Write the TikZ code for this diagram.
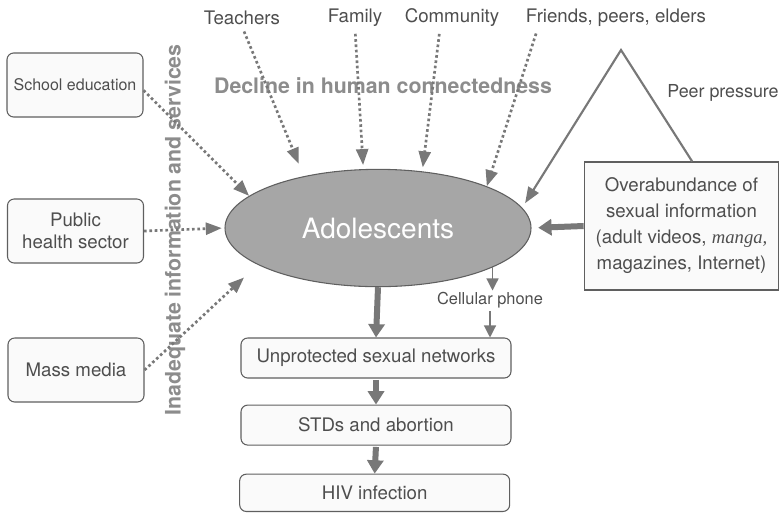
\documentclass[tikz,border=0pt]{standalone}
\usepackage{fontspec}
\setmainfont{TeX Gyre Heros}
\newfontfamily\mangafont{Liberation Serif}
\usepackage{tikz}
\usetikzlibrary{arrows.meta, positioning, shapes.geometric}
\usepackage{xcolor}
\definecolor{cText}{RGB}{78,78,78}
\definecolor{cLine}{RGB}{95,95,95}
\definecolor{cArrow}{RGB}{120,120,120}
\definecolor{cFill}{RGB}{166,166,166}
\definecolor{cHead}{RGB}{140,140,140}
\definecolor{cPaper}{RGB}{250,250,250}
\tikzset{
  basebox/.style={rectangle, rounded corners=5pt, draw=cLine, line width=0.8pt,
                  fill=cPaper, align=center, text=cText, inner sep=2pt,
                  font=\fontsize{14}{16.5}\selectfont},
  sidebox/.style={basebox, minimum width=102pt, minimum height=48pt},
  chainbox/.style={basebox, minimum width=202.5pt, minimum height=30pt},
  labelnode/.style={text=cText, inner sep=1pt, font=\fontsize{14}{16}\selectfont},
  headline/.style={text=cHead, inner sep=1pt, font=\bfseries\fontsize{16}{18}\selectfont},
  dotarrow/.style={-{Triangle[length=12pt,width=9pt]}, line width=2pt,
                   dash pattern=on 2pt off 2pt, color=cArrow},
  thickarrow/.style={-{Triangle[length=10pt,width=12pt]}, line width=4.5pt, color=cArrow},
  peerarrow/.style={-{Triangle[length=12pt,width=9pt]}, line width=1.6pt, color=cArrow},
  thinarrow/.style={-{Triangle[length=9pt,width=9pt]}, line width=0.9pt, color=cArrow}
}

\begin{document}
\begin{tikzpicture}[x=0.75pt, y=-0.75pt, node distance=19.5pt]

  \useasboundingbox (0,0) rectangle (781,512);

  % ── Centre ──
  \node[ellipse, draw=cLine, line width=0.8pt, fill=cFill, minimum width=229.5pt,
        minimum height=88pt, inner sep=0pt, text=white,
        font=\fontsize{21}{24}\selectfont] (adol) at (378,228) {Adolescents};

  % ── Left: services ──
  \node[sidebox, font=\fontsize{12}{14}\selectfont] (school) at (75,85) {School education};
  \node[sidebox] (health) at (75.5,231) {Public\\health sector};
  \node[sidebox] (media) at (76,370) {Mass media};
  \node[headline, rotate=90] (inadeq) at (175,230) {Inadequate information and services};

  % ── Top: connectedness ──
  \node[labelnode] (teach) at (242,18) {Teachers};
  \node[labelnode] (family) at (355,18) {Family};
  \node[labelnode] (comm) at (452,18) {Community};
  \node[labelnode] (friends) at (616,18) {Friends, peers, elders};
  \node[headline] (decline) at (383,86) {Decline in human connectedness};

  % ── Right: information overload ──
  \node[basebox, rounded corners=0pt, minimum width=146pt, minimum height=96pt,
        font=\fontsize{14}{19.5}\selectfont] (over) at (681.5,226)
      {Overabundance of\\sexual information\\(adult videos, {\mangafont\itshape manga,}\\magazines, Internet)};
  \coordinate (apex) at (621,50);
  \node[labelnode, font=\fontsize{13.4}{16}\selectfont] (peer) at (723,93) {Peer pressure};

  % ── Bottom: outcomes ──
  \node[chainbox] (unprot) at (376,358) {Unprotected sexual networks};
  \node[chainbox, below=of unprot] (stds) {STDs and abortion};
  \node[chainbox, minimum height=28pt, below=21pt of stds, xshift=-1pt] (hiv) {HIV infection};
  \node[labelnode, font=\fontsize{12.3}{14}\selectfont] (cell) at (490,300) {Cellular phone};

  % dotted influences
  \draw[dotarrow, shorten <=4pt, shorten >=10pt] (teach.south) -- (adol.145);
  \draw[dotarrow, shorten <=4pt, shorten >=3pt] (family.south) -- (adol.104.5);
  \draw[dotarrow, shorten <=4pt, shorten >=3pt] ([xshift=-9pt]comm.south) -- (adol.52.5);
  \draw[dotarrow, shorten <=4pt] ([xshift=10pt]friends.south west) -- (adol.21.4);
  \draw[dotarrow] ([yshift=-4pt]school.east) -- (adol.166);
  \draw[dotarrow, shorten >=2pt] (health.east) -- (adol.west);
  \draw[dotarrow, shorten >=14pt] (media.east) -- (adol.197);

  % peer pressure and media flood
  \draw[peerarrow, shorten >=4pt] ([xshift=8pt]over.north) -- (apex) -- (adol.8);
  \draw[thickarrow, shorten >=5pt] (over.west) -- (adol.east);

  % phone link
  \draw[thinarrow] (adol.341) -- (adol.341 |- cell.north);
  \draw[thinarrow, shorten <=1pt] (cell.south) -- (cell.south |- unprot.north);

  % outcome chain
  \draw[thickarrow] (adol.south) -- (unprot.north);
  \draw[thickarrow, shorten <=1pt] (unprot.south) -- (stds.north);
  \draw[thickarrow, shorten <=1pt] (stds.south) -- (hiv.north);

\end{tikzpicture}
\end{document}
